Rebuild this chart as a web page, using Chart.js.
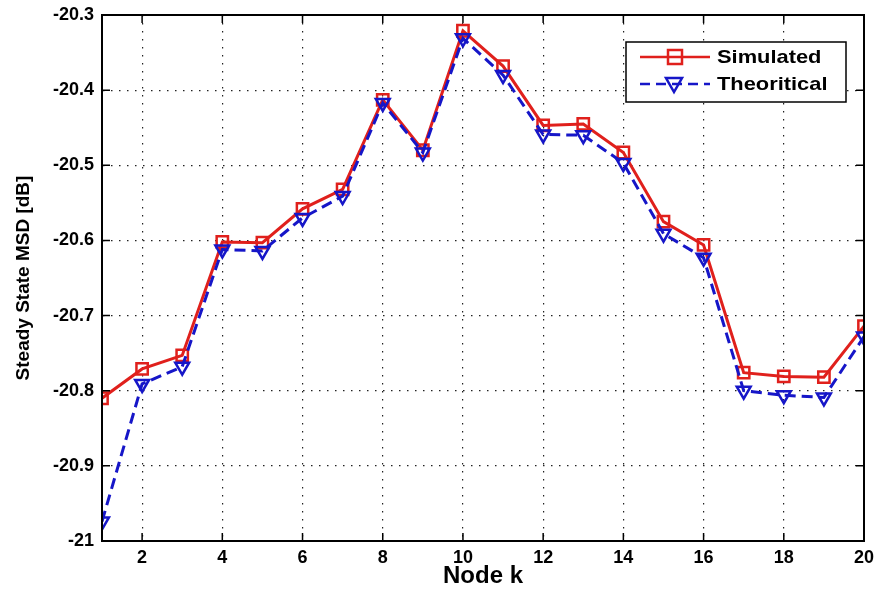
<!DOCTYPE html>
<html>
<head>
<meta charset="utf-8">
<script src="https://cdn.jsdelivr.net/npm/chart.js@4/dist/chart.umd.min.js"></script>
<style>
  html, body { margin: 0; padding: 0; background: #fff; }
  #wrap { width: 877px; height: 599px; position: relative; }
</style>
</head>
<body>
<div id="wrap"><canvas id="msd-chart"></canvas></div>
<script>
// node index and steady state MSD
const nodes = [1, 2, 3, 4, 5, 6, 7, 8, 9, 10, 11, 12, 13, 14, 15, 16, 17, 18, 19, 20];
const simulated = [-20.81, -20.771, -20.753, -20.602, -20.603, -20.558, -20.532, -20.413, -20.48, -20.321,
                   -20.368, -20.447, -20.445, -20.483, -20.575, -20.606, -20.776, -20.781, -20.782, -20.714];
const theoretical = [-20.974, -20.791, -20.768, -20.612, -20.614, -20.57, -20.541, -20.417, -20.483, -20.331,
                     -20.38, -20.459, -20.46, -20.497, -20.591, -20.623, -20.8, -20.806, -20.809, -20.728];
const xTicks = [2, 4, 6, 8, 10, 12, 14, 16, 18, 20];
const yTicks = [-21, -20.9, -20.8, -20.7, -20.6, -20.5, -20.4, -20.3];
const seriesNames = ["Simulated", "Theoritical"];

const RED = '#e0201c';
const BLUE = '#1616c8';
const FONT = '"Liberation Sans", Arial, sans-serif';

// MATLAB style frame: box all round, ticks pointing inwards, legend inside
const matlabFrame = {
    id: 'matlabFrame',
    afterDraw(chart) {
        const ctx = chart.ctx;
        const a = chart.chartArea;
        const xs = chart.scales.x, ys = chart.scales.y;
        ctx.save();
        ctx.strokeStyle = '#000';
        ctx.lineWidth = 2;
        ctx.strokeRect(a.left, a.top, a.right - a.left, a.bottom - a.top);
        ctx.lineWidth = 1.5;
        ctx.beginPath();
        xTicks.forEach(v => {
            const px = xs.getPixelForValue(v);
            ctx.moveTo(px, a.bottom); ctx.lineTo(px, a.bottom - 8);
            ctx.moveTo(px, a.top); ctx.lineTo(px, a.top + 8);
        });
        yTicks.forEach(v => {
            const py = ys.getPixelForValue(v);
            ctx.moveTo(a.left, py); ctx.lineTo(a.left + 8, py);
            ctx.moveTo(a.right, py); ctx.lineTo(a.right - 8, py);
        });
        ctx.stroke();

        // legend box
        const lx = 626, ly = 42, lw = 220, lh = 60;
        ctx.fillStyle = '#fff';
        ctx.fillRect(lx, ly, lw, lh);
        ctx.lineWidth = 1.5;
        ctx.strokeRect(lx, ly, lw, lh);

        const rows = [
            { y: 57, color: RED, dash: [], name: seriesNames[0], marker: 'square' },
            { y: 84, color: BLUE, dash: [10, 6], name: seriesNames[1], marker: 'tri' }
        ];
        rows.forEach(r => {
            ctx.strokeStyle = r.color;
            ctx.lineWidth = 2.5;
            ctx.setLineDash(r.dash);
            ctx.beginPath();
            ctx.moveTo(640, r.y); ctx.lineTo(710, r.y);
            ctx.stroke();
            ctx.setLineDash([]);
            ctx.beginPath();
            if (r.marker === 'square') {
                ctx.rect(668, r.y - 7, 14, 14);
            } else {
                ctx.moveTo(666, r.y - 6); ctx.lineTo(682, r.y - 6); ctx.lineTo(674, r.y + 8); ctx.closePath();
            }
            ctx.stroke();
            // the original text is a little stretched sideways
            ctx.save();
            ctx.translate(717, r.y + 1);
            ctx.scale(1.15, 1);
            ctx.fillStyle = '#000';
            ctx.font = 'bold 19px ' + FONT;
            ctx.textBaseline = 'middle';
            ctx.textAlign = 'left';
            ctx.fillText(r.name, 0, 0);
            ctx.restore();
        });
        ctx.restore();
    }
};

const ctx = document.getElementById('msd-chart').getContext('2d');
const chart = new Chart(ctx, {
    type: 'line',
    data: {
        datasets: [{
            label: seriesNames[0],
            data: nodes.map((n, i) => ({ x: n, y: simulated[i] })),
            borderColor: RED,
            backgroundColor: 'rgba(0,0,0,0)',
            borderWidth: 3,
            pointStyle: 'rect',
            pointRadius: 8,
            pointBorderWidth: 2.5,
            pointBorderColor: RED,
            pointBackgroundColor: 'rgba(0,0,0,0)',
            tension: 0,
            order: 1
        }, {
            label: seriesNames[1],
            data: nodes.map((n, i) => ({ x: n, y: theoretical[i] })),
            borderColor: BLUE,
            backgroundColor: 'rgba(0,0,0,0)',
            borderWidth: 3,
            borderDash: [11, 6],
            pointStyle: 'triangle',
            pointRotation: 180,
            pointRadius: 8,
            pointBorderWidth: 2.5,
            pointBorderColor: BLUE,
            pointBackgroundColor: 'rgba(0,0,0,0)',
            tension: 0,
            order: 0
        }]
    },
    options: {
        responsive: true,
        maintainAspectRatio: false,
        animation: false,
        layout: { padding: { left: 0, top: 15, right: 13, bottom: 0 } },
        plugins: {
            legend: { display: false },
            tooltip: { enabled: false }
        },
        scales: {
            x: {
                type: 'linear',
                min: 1,
                max: 20,
                afterBuildTicks: scale => { scale.ticks = xTicks.map(v => ({ value: v })); },
                afterFit: scale => { scale.height = 58; scale.paddingLeft = 0; scale.paddingRight = 0; },
                ticks: {
                    color: '#000',
                    padding: 6,
                    font: { family: FONT, size: 18, weight: 'bold' }
                },
                grid: { color: '#222', lineWidth: 1.2, drawTicks: false },
                border: { display: true, color: '#000', width: 2, dash: [1.5, 6.5] },
                title: {
                    display: true,
                    text: 'Node k',
                    color: '#000',
                    padding: { top: 0, bottom: 8 },
                    font: { family: FONT, size: 24, weight: 'bold' }
                }
            },
            y: {
                type: 'linear',
                min: -21,
                max: -20.3,
                afterBuildTicks: scale => { scale.ticks = yTicks.map(v => ({ value: v })); },
                afterFit: scale => { scale.width = 102; scale.paddingTop = 0; scale.paddingBottom = 0; },
                ticks: {
                    color: '#000',
                    padding: 8,
                    callback: v => String(+v.toFixed(1)),
                    font: { family: FONT, size: 18, weight: 'bold' }
                },
                grid: { color: '#222', lineWidth: 1.2, drawTicks: false },
                border: { display: true, color: '#000', width: 2, dash: [1.5, 6.5] },
                title: {
                    display: true,
                    text: 'Steady State MSD [dB]',
                    color: '#000',
                    padding: { top: 12, bottom: 0 },
                    font: { family: FONT, size: 19, weight: 'bold' }
                }
            }
        }
    },
    plugins: [matlabFrame]
});
</script>
</body>
</html>
